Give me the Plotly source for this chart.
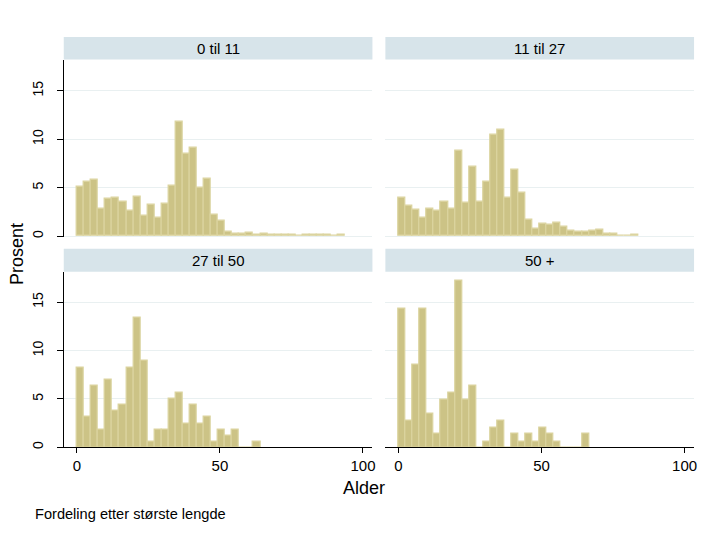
import plotly.graph_objects as go

# ---- data (percent per age bin) ----
bin_width = 2.465
panel_titles = ["0 til 11", "11 til 27", "27 til 50", "50 +"]

pct_0_11 = [5.07, 5.58, 5.82, 2.81, 3.87, 3.97, 3.53, 2.60, 4.04, 2.12,
            3.22, 1.92, 3.32, 5.17, 11.75, 8.46, 9.08, 4.97, 5.89, 2.19,
            1.58, 0.45, 0.24, 0.24, 0.34, 0.17, 0.24, 0.10, 0.10, 0.10,
            0.10, 0, 0.10, 0.10, 0.10, 0.10, 0, 0.10]
pct_11_27 = [3.94, 3.12, 2.71, 1.88, 2.81, 2.60, 3.53, 2.81, 8.77, 3.42,
             7.12, 3.53, 5.58, 10.41, 10.92, 3.94, 6.82, 4.45, 1.68, 0.75,
             1.27, 1.16, 1.37, 0.96, 0.55, 0.45, 0.45, 0.55, 0.65, 0.24,
             0.24, 0, 0, 0.10]
pct_27_50 = [8.22, 3.15, 6.37, 1.82, 6.99, 3.80, 4.42, 8.22, 13.36, 8.90,
             0.58, 1.82, 1.82, 5.03, 5.65, 2.47, 4.42, 2.47, 3.18, 0.58,
             1.82, 1.20, 1.82, 0, 0, 0.58]
pct_50_plus = [14.28, 2.77, 8.53, 14.28, 3.49, 1.37, 4.93, 5.65, 17.16, 4.93,
               6.37, 0, 0.62, 2.05, 2.77, 0, 1.37, 0.62, 1.37, 0.62,
               2.05, 1.37, 0.62, 0, 0, 0, 1.37]
panel_values = [pct_0_11, pct_11_27, pct_27_50, pct_50_plus]

y_ticks = [0, 5, 10, 15]
x_ticks = [0, 50, 100]

# ---- layout geometry (page pixels; page body has an 8px margin) ----
OFF = 8
W, H = 700, 517
def px_x(p): return (p - OFF) / W
def px_y(p): return 1 - (p - OFF) / H

col_dom = [(64, 374), (387, 697)]
row_plot = [(60, 238), (272.7, 449)]
row_strip = [(37, 59.7), (249.7, 272.7)]
yr = [[-0.103, 18.19], [0, 18.14]]
xr = [-4.6, 103.3]

fill = "#ccc386"
edge = "#dbd49f"
grid = "#e9f0f1"
strip = "#d7e4ea"
font_family = "Liberation Sans, Arial, sans-serif"

fig = go.Figure()
shapes, annots = [], []
for i, vals in enumerate(panel_values):
    r, c = divmod(i, 2)
    n = i + 1
    xa = "x" if n == 1 else f"x{n}"
    ya = "y" if n == 1 else f"y{n}"
    centers = [(k + 0.5) * bin_width for k in range(len(vals))]
    fig.add_trace(go.Bar(x=centers, y=vals, width=bin_width, xaxis=xa, yaxis=ya,
                         marker=dict(color=fill, line=dict(color=edge, width=1.2)),
                         showlegend=False, hoverinfo="skip"))
    bottom = (r == 1)
    left = (c == 0)
    xkey = "xaxis" if n == 1 else f"xaxis{n}"
    ykey = "yaxis" if n == 1 else f"yaxis{n}"
    fig.layout[xkey] = dict(
        domain=[px_x(col_dom[c][0]), px_x(col_dom[c][1])], range=xr,
        anchor=ya, showgrid=False, zeroline=False,
        showline=bottom, linecolor="#000", linewidth=1,
        ticks="outside" if bottom else "", ticklen=5, tickcolor="#000",
        tickvals=x_ticks, showticklabels=bottom,
        tickfont=dict(size=15, color="#000", family=font_family))
    fig.layout[ykey] = dict(
        domain=[px_y(row_plot[r][1]), px_y(row_plot[r][0])], range=yr[r],
        anchor=xa, showgrid=True, gridcolor=grid, gridwidth=1, zeroline=False,
        showline=left, linecolor="#000", linewidth=1,
        ticks="outside" if left else "", ticklen=6, tickcolor="#000",
        tickvals=y_ticks, showticklabels=left, tickangle=-90,
        ticklabelstandoff=8,
        tickfont=dict(size=14, color="#000", family=font_family))
    # strip header
    x0, x1 = col_dom[c]
    y0, y1 = row_strip[r]
    shapes.append(dict(type="rect", xref="paper", yref="paper",
                       x0=px_x(x0), x1=px_x(x1), y0=px_y(y1), y1=px_y(y0),
                       fillcolor=strip, line=dict(width=0), layer="below"))
    annots.append(dict(text=panel_titles[i], xref="paper", yref="paper",
                       x=px_x((x0 + x1) / 2), y=px_y((y0 + y1) / 2),
                       showarrow=False, xanchor="center", yanchor="middle",
                       font=dict(size=15, color="#000", family=font_family)))

annots.append(dict(text="Prosent", xref="paper", yref="paper", x=px_x(17), y=px_y(255),
                   textangle=-90, showarrow=False, xanchor="center", yanchor="middle",
                   font=dict(size=18, color="#000", family=font_family)))
annots.append(dict(text="Alder", xref="paper", yref="paper", x=px_x(366), y=px_y(490),
                   showarrow=False, xanchor="center", yanchor="middle",
                   font=dict(size=18, color="#000", family=font_family)))
annots.append(dict(text="Fordeling etter største lengde", xref="paper", yref="paper",
                   x=px_x(33), y=px_y(516), showarrow=False, xanchor="left", yanchor="middle",
                   font=dict(size=14.6, color="#000", family=font_family)))

fig.update_layout(width=W, height=H, margin=dict(l=0, r=0, t=0, b=0),
                  paper_bgcolor="white", plot_bgcolor="white", bargap=0,
                  shapes=shapes, annotations=annots)
fig.write_html("out.html")
